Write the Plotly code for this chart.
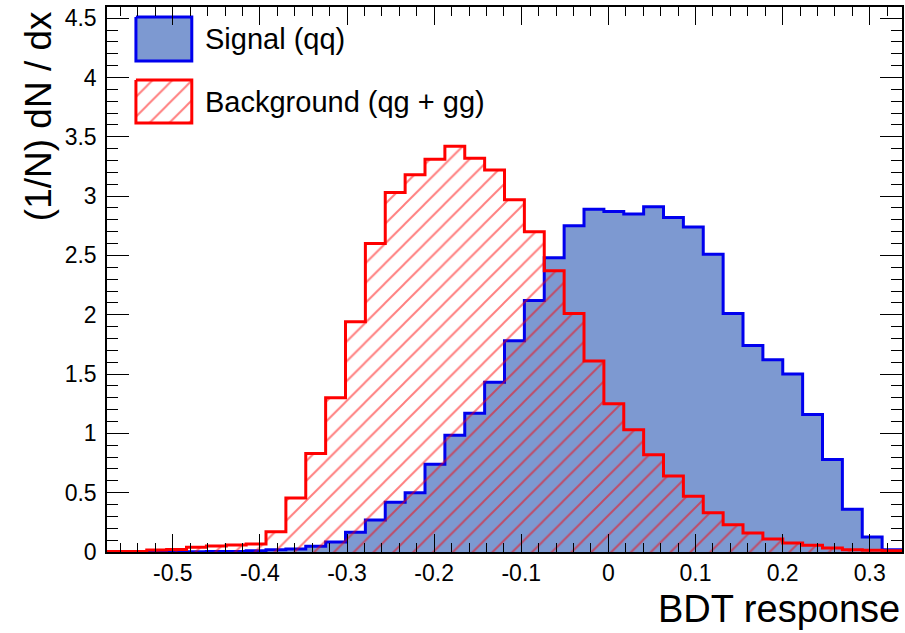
import numpy as np
import plotly.graph_objects as go

# ---- data ----
x_min, x_max, n_bins = -0.5755, 0.337, 40
signal = [0.003, 0.003, 0.003, 0.003, 0.003, 0.004, 0.005, 0.010, 0.018, 0.025,
          0.048, 0.085, 0.166, 0.27, 0.42, 0.50, 0.74, 0.985, 1.17, 1.43,
          1.78, 2.12, 2.48, 2.75, 2.89, 2.87, 2.85, 2.91, 2.82, 2.74,
          2.51, 2.01, 1.74, 1.62, 1.50, 1.16, 0.78, 0.36, 0.127, 0.02]
background = [0.005, 0.005, 0.017, 0.022, 0.04, 0.05, 0.06, 0.068, 0.17, 0.456,
              0.83, 1.30, 1.94, 2.60, 3.03, 3.18, 3.31, 3.42, 3.32, 3.22,
              2.97, 2.70, 2.37, 2.01, 1.61, 1.25, 1.03, 0.82, 0.64, 0.47,
              0.33, 0.23, 0.16, 0.11, 0.076, 0.056, 0.034, 0.02, 0.015, 0.01]
x_tickvals = [-0.5, -0.4, -0.3, -0.2, -0.1, 0, 0.1, 0.2, 0.3]
x_ticktext = ["-0.5", "-0.4", "-0.3", "-0.2", "-0.1", "0", "0.1", "0.2", "0.3"]
y_tickvals = [0, 0.5, 1, 1.5, 2, 2.5, 3, 3.5, 4, 4.5]
y_ticktext = ["0", "0.5", "1", "1.5", "2", "2.5", "3", "3.5", "4", "4.5"]
names = ["Signal (qq)", "Background (qg + gg)"]

edges = np.linspace(x_min, x_max, n_bins + 1)

def steps(vals):
    return list(edges), list(vals) + [vals[-1]]

FONT = "Liberation Sans, Arial, Helvetica, sans-serif"
SIG_FILL = "#7d99d1"
SIG_LINE = "#0000ee"
BKG_LINE = "#ff0000"
HATCH = dict(shape="/", fgcolor=BKG_LINE, bgcolor="rgba(0,0,0,0)", size=14, solidity=0.14, fillmode="overlay")

fig = go.Figure()

sx, sy = steps(signal)
fig.add_trace(go.Scatter(x=sx, y=sy, mode="lines", line=dict(shape="hv", color=SIG_LINE, width=3),
                         fill="tozeroy", fillcolor=SIG_FILL, showlegend=False, hoverinfo="skip"))
bx, by = steps(background)
fig.add_trace(go.Scatter(x=bx, y=by, mode="lines", line=dict(shape="hv", color=BKG_LINE, width=3),
                         fill="tozeroy", fillcolor="rgba(0,0,0,0)", fillpattern=HATCH,
                         showlegend=False, hoverinfo="skip"))

# ---- legend drawn on a hidden overlay axis in pixel units ----
L, R, T, B = 107, 904, 7, 552
legend_boxes = [(136, 192, 17, 61), (136, 192, 80, 123)]
for i, (x0, x1, y0, y1) in enumerate(legend_boxes):
    if i == 0:
        fig.add_trace(go.Scatter(x=[x0, x1, x1, x0, x0], y=[y0, y0, y1, y1, y0], xaxis="x2", yaxis="y2",
                                 mode="lines", fill="toself", fillcolor=SIG_FILL,
                                 line=dict(color=SIG_LINE, width=3), showlegend=False, hoverinfo="skip"))
    else:
        fig.add_trace(go.Scatter(x=[x0, x1, x1, x0, x0], y=[y0, y0, y1, y1, y0], xaxis="x2", yaxis="y2",
                                 mode="lines", fill="toself", fillcolor="rgba(0,0,0,0)", fillpattern=HATCH,
                                 line=dict(color=BKG_LINE, width=3), showlegend=False, hoverinfo="skip"))
    fig.add_annotation(x=203, y=(y0 + y1) / 2, xref="x2", yref="y2", text=names[i], showarrow=False,
                       xanchor="left", yanchor="middle", font=dict(family=FONT, size=29, color="black"))

axis_common = dict(showline=True, linecolor="black", linewidth=1.5, mirror="ticks", ticks="inside",
                   tickcolor="black", tickwidth=1, showgrid=False, zeroline=False,
                   tickfont=dict(family=FONT, size=23, color="black"))
fig.update_layout(
    width=905, height=633,
    margin=dict(l=L, r=905 - R, t=T, b=633 - B),
    paper_bgcolor="white", plot_bgcolor="white",
    xaxis=dict(range=[x_min, x_max], tickmode="array", tickvals=x_tickvals, ticktext=x_ticktext,
               ticklen=18, minor=dict(ticks="inside", ticklen=9, dtick=0.02, tick0=0, tickcolor="black",
                                      tickwidth=1, showgrid=False), **axis_common),
    yaxis=dict(range=[0, 4.594], tickmode="array", tickvals=y_tickvals, ticktext=y_ticktext,
               ticklen=22, ticklabelstandoff=4,
               minor=dict(ticks="inside", ticklen=11, dtick=0.1, tick0=0, tickcolor="black",
                          tickwidth=1, showgrid=False), **axis_common),
    xaxis2=dict(range=[L, R], overlaying="x", visible=False, fixedrange=True),
    yaxis2=dict(range=[B, T], overlaying="y", visible=False, fixedrange=True),
    showlegend=False,
)

fig.add_annotation(text="BDT response", xref="paper", yref="paper", x=1.0, y=(B - 609) / (B - T),
                   xanchor="right", yanchor="middle", showarrow=False,
                   font=dict(family=FONT, size=38, color="black"))
fig.add_annotation(text="(1/N) dN / dx", xref="paper", yref="paper", x=(38 - L) / (R - L), y=(B - 9) / (B - T),
                   xanchor="center", yanchor="top", textangle=-90, showarrow=False,
                   font=dict(family=FONT, size=37, color="black"))

fig.write_html("out.html")
